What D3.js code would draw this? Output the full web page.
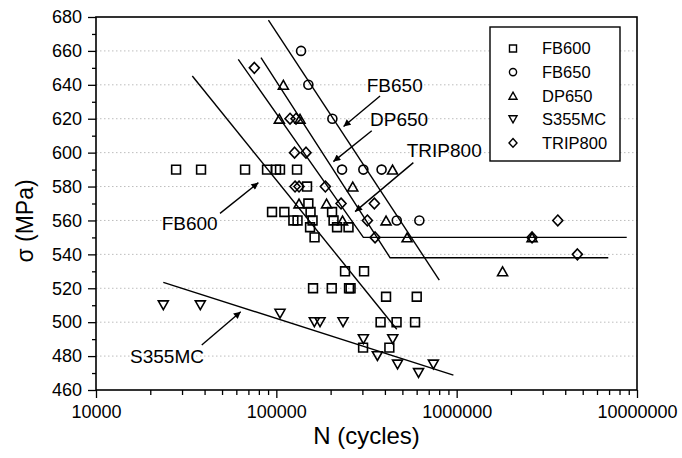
<!DOCTYPE html>
<html>
<head>
<meta charset="utf-8">
<script src="https://cdn.jsdelivr.net/npm/d3@7"></script>
<style>
  html, body { margin: 0; padding: 0; background: #fff; }
  svg { display: block; font-family: "Liberation Sans", Arial, sans-serif; }
</style>
</head>
<body>
<div id="chart"></div>
<script>
// S-N data: [N cycles, stress MPa]
const fb600 = [
  [27800, 590], [38240, 590], [67070, 590], [88800, 590], [99600, 590], [104800, 590], [130200, 590],
  [148000, 580], [150500, 570],
  [94650, 565], [110800, 565], [154800, 565], [203700, 565],
  [124300, 560], [131100, 560], [158800, 560], [207600, 560],
  [153800, 556], [217100, 556], [251400, 556], [162900, 550],
  [240400, 530], [306500, 530],
  [159800, 520], [202900, 520], [253000, 520], [258000, 520],
  [405900, 515], [600600, 515],
  [378500, 500], [464200, 500], [587800, 500],
  [302700, 485], [423400, 485]
];
const fb650 = [
  [137100, 660], [150500, 640], [204500, 620],
  [231400, 590], [303800, 590], [383400, 590],
  [465300, 560], [621000, 560]
];
const dp650 = [
  [109400, 640], [103900, 620], [135300, 620], [441000, 590], [265300, 580],
  [133600, 570], [189900, 570], [232900, 560], [405900, 560],
  [530800, 550], [2619000, 550], [1797000, 530]
];
const s355mc = [
  [23620, 510], [37880, 510], [104800, 505],
  [162500, 500], [174700, 500], [234400, 500],
  [303800, 490], [442100, 490], [363300, 480],
  [470100, 475], [742700, 475], [614600, 470]
];
const trip800 = [
  [75510, 650], [119100, 620], [128600, 620], [126200, 600], [146100, 600],
  [127000, 580], [133600, 580], [187000, 580],
  [228500, 570], [349600, 570], [319700, 560], [3637000, 560],
  [352700, 550], [2619000, 550], [4671000, 540]
];

// fitted curves (knee + fatigue limit for DP650 / TRIP800)
const fb600Fit = [[34200, 645.2], [465500, 495.8]];
const fb650Fit = [[90400, 678.2], [801000, 524.8]];
const dp650Fit = [[82200, 656], [427500, 538], [6930000, 538]];
const trip800Fit = [[61500, 655], [303800, 550], [8770000, 550]];
const s355mcFit = [[23620, 523.5], [959000, 468.8]];

// annotations: label anchor, arrow tail, arrow tip (data coords)
const labelNames = ['FB650', 'DP650', 'TRIP800', 'FB600', 'S355MC'];
const labelAt = [[317200, 635.9], [330900, 616.0], [528700, 597.3], [23140, 554.4], [15440, 475.8]];
const arrowFrom = [[376000, 633.4], [338100, 612.9], [575300, 594.1], [48730, 564.2], [38580, 486.5]];
const arrowTo = [[235900, 615.4], [207100, 594.7], [273300, 565.2], [79480, 582.3], [63480, 506.2]];

const xTicks = [1e4, 1e5, 1e6, 1e7];
const yTicks = d3.range(460, 681, 20);

const W = 682, H = 458;
const margin = { top: 17, right: 45, bottom: 68, left: 96 };

const x = d3.scaleLog().domain([1e4, 1e7]).range([margin.left, W - margin.right]);
const y = d3.scaleLinear().domain([460, 680]).range([H - margin.bottom, margin.top]);

const svg = d3.select('#chart').append('svg')
  .attr('width', W)
  .attr('height', H);

/**
 * Marker outline path centred on 0,0
 */
function markerPath(kind, k = 1) {
  switch (kind) {
    case 'square': {
      const h = 4.4 * k;
      return `M${-h},${-h}H${h}V${h}H${-h}Z`;
    }
    case 'circle': {
      const r = 4.5 * k;
      return `M${r},0A${r},${r} 0 1,1 ${-r},0A${r},${r} 0 1,1 ${r},0Z`;
    }
    case 'up': {
      const w = 5 * k, h = 4.4 * k;
      return `M0,${-h}L${w},${h}L${-w},${h}Z`;
    }
    case 'down': {
      const w = 5 * k, h = 4.4 * k;
      return `M0,${h}L${w},${-h}L${-w},${-h}Z`;
    }
    default: {
      const w = 5 * k, h = 5.4 * k;
      return `M0,${-h}L${w},0L0,${h}L${-w},0Z`;
    }
  }
}

const series = [
  { name: 'FB600', kind: 'square', data: fb600 },
  { name: 'FB650', kind: 'circle', data: fb650 },
  { name: 'DP650', kind: 'up', data: dp650 },
  { name: 'S355MC', kind: 'down', data: s355mc },
  { name: 'TRIP800', kind: 'diamond', data: trip800 }
];

// dotted horizontal grid
svg.append('g')
  .selectAll('line')
  .data(yTicks.filter(v => v > 460 && v < 680))
  .join('line')
  .attr('x1', margin.left)
  .attr('x2', W - margin.right)
  .attr('y1', d => y(d))
  .attr('y2', d => y(d))
  .attr('stroke', '#bdbdbd')
  .attr('stroke-width', 1)
  .attr('stroke-dasharray', '1.5,2.5');

// axes
const xMinor = [];
[1e4, 1e5, 1e6].forEach(d => { for (let m = 2; m < 10; m++) xMinor.push(d * m); });

const gx = svg.append('g').attr('transform', `translate(0,${y(460)})`);
gx.call(d3.axisBottom(x).tickValues(xMinor).tickSize(5).tickFormat(''));
gx.call(g => g.append('g').call(
  d3.axisBottom(x).tickValues(xTicks).tickSize(8).tickPadding(7).tickFormat(d3.format('d'))
));
gx.selectAll('.domain').remove();
gx.selectAll('text').attr('font-size', 18).attr('fill', '#000').attr('font-family', 'Liberation Sans, Arial, sans-serif');

const gy = svg.append('g').attr('transform', `translate(${x(1e4)},0)`);
gy.call(d3.axisLeft(y).tickValues(d3.range(470, 680, 20)).tickSize(4).tickFormat(''));
gy.call(g => g.append('g').call(
  d3.axisLeft(y).tickValues(yTicks).tickSize(8).tickPadding(6)
));
gy.selectAll('.domain').remove();
gy.selectAll('text').attr('font-size', 18).attr('fill', '#000').attr('font-family', 'Liberation Sans, Arial, sans-serif');

svg.selectAll('.tick line').attr('stroke', '#000').attr('stroke-width', 1.3);

// frame
svg.append('rect')
  .attr('x', x(1e4))
  .attr('y', y(680))
  .attr('width', x(1e7) - x(1e4))
  .attr('height', y(460) - y(680))
  .attr('fill', 'none')
  .attr('stroke', '#000')
  .attr('stroke-width', 1.6);

// fit lines
const line = d3.line().x(d => x(d[0])).y(d => y(d[1]));
svg.append('g')
  .selectAll('path')
  .data([fb600Fit, fb650Fit, dp650Fit, trip800Fit, s355mcFit])
  .join('path')
  .attr('d', line)
  .attr('fill', 'none')
  .attr('stroke', '#000')
  .attr('stroke-width', 1.4);

// data markers
series.forEach(s => {
  svg.append('g')
    .selectAll('path')
    .data(s.data)
    .join('path')
    .attr('transform', d => `translate(${x(d[0])},${y(d[1])})`)
    .attr('d', markerPath(s.kind))
    .attr('fill', 'none')
    .attr('stroke', '#000')
    .attr('stroke-width', 1.6);
});

// arrows + labels
svg.append('defs').append('marker')
  .attr('id', 'head')
  .attr('viewBox', '0 0 10 10')
  .attr('refX', 10)
  .attr('refY', 5)
  .attr('markerWidth', 10)
  .attr('markerHeight', 7)
  .attr('markerUnits', 'userSpaceOnUse')
  .attr('orient', 'auto')
  .append('path')
  .attr('d', 'M0,0L10,5L0,10Z')
  .attr('fill', '#000');

const notes = svg.append('g');
labelNames.forEach((name, i) => {
  notes.append('line')
    .attr('x1', x(arrowFrom[i][0]))
    .attr('y1', y(arrowFrom[i][1]))
    .attr('x2', x(arrowTo[i][0]))
    .attr('y2', y(arrowTo[i][1]))
    .attr('stroke', '#000')
    .attr('stroke-width', 1.4)
    .attr('marker-end', 'url(#head)');
  notes.append('text')
    .attr('x', x(labelAt[i][0]))
    .attr('y', y(labelAt[i][1]))
    .attr('font-size', 19)
    .text(name);
});

// legend
const legend = svg.append('g');
legend.append('rect')
  .attr('x', 490)
  .attr('y', 27)
  .attr('width', 130)
  .attr('height', 134)
  .attr('fill', '#fff')
  .attr('stroke', '#000')
  .attr('stroke-width', 1.4);

const rows = legend.selectAll('g.row')
  .data(series)
  .join('g')
  .attr('class', 'row')
  .attr('transform', (d, i) => `translate(513,${48.5 + i * 23.6})`);
rows.append('path')
  .attr('d', d => markerPath(d.kind, 0.8))
  .attr('fill', 'none')
  .attr('stroke', '#000')
  .attr('stroke-width', 1.4);
rows.append('text')
  .attr('x', 29)
  .attr('dy', '0.36em')
  .attr('font-size', 16.5)
  .text(d => d.name);

// axis titles
svg.append('text')
  .attr('x', 366.5)
  .attr('y', 443.5)
  .attr('text-anchor', 'middle')
  .attr('font-size', 24)
  .text('N (cycles)');

svg.append('text')
  .attr('transform', 'translate(33,221) rotate(-90)')
  .attr('text-anchor', 'middle')
  .attr('font-size', 23)
  .text('σ (MPa)');
</script>
</body>
</html>
